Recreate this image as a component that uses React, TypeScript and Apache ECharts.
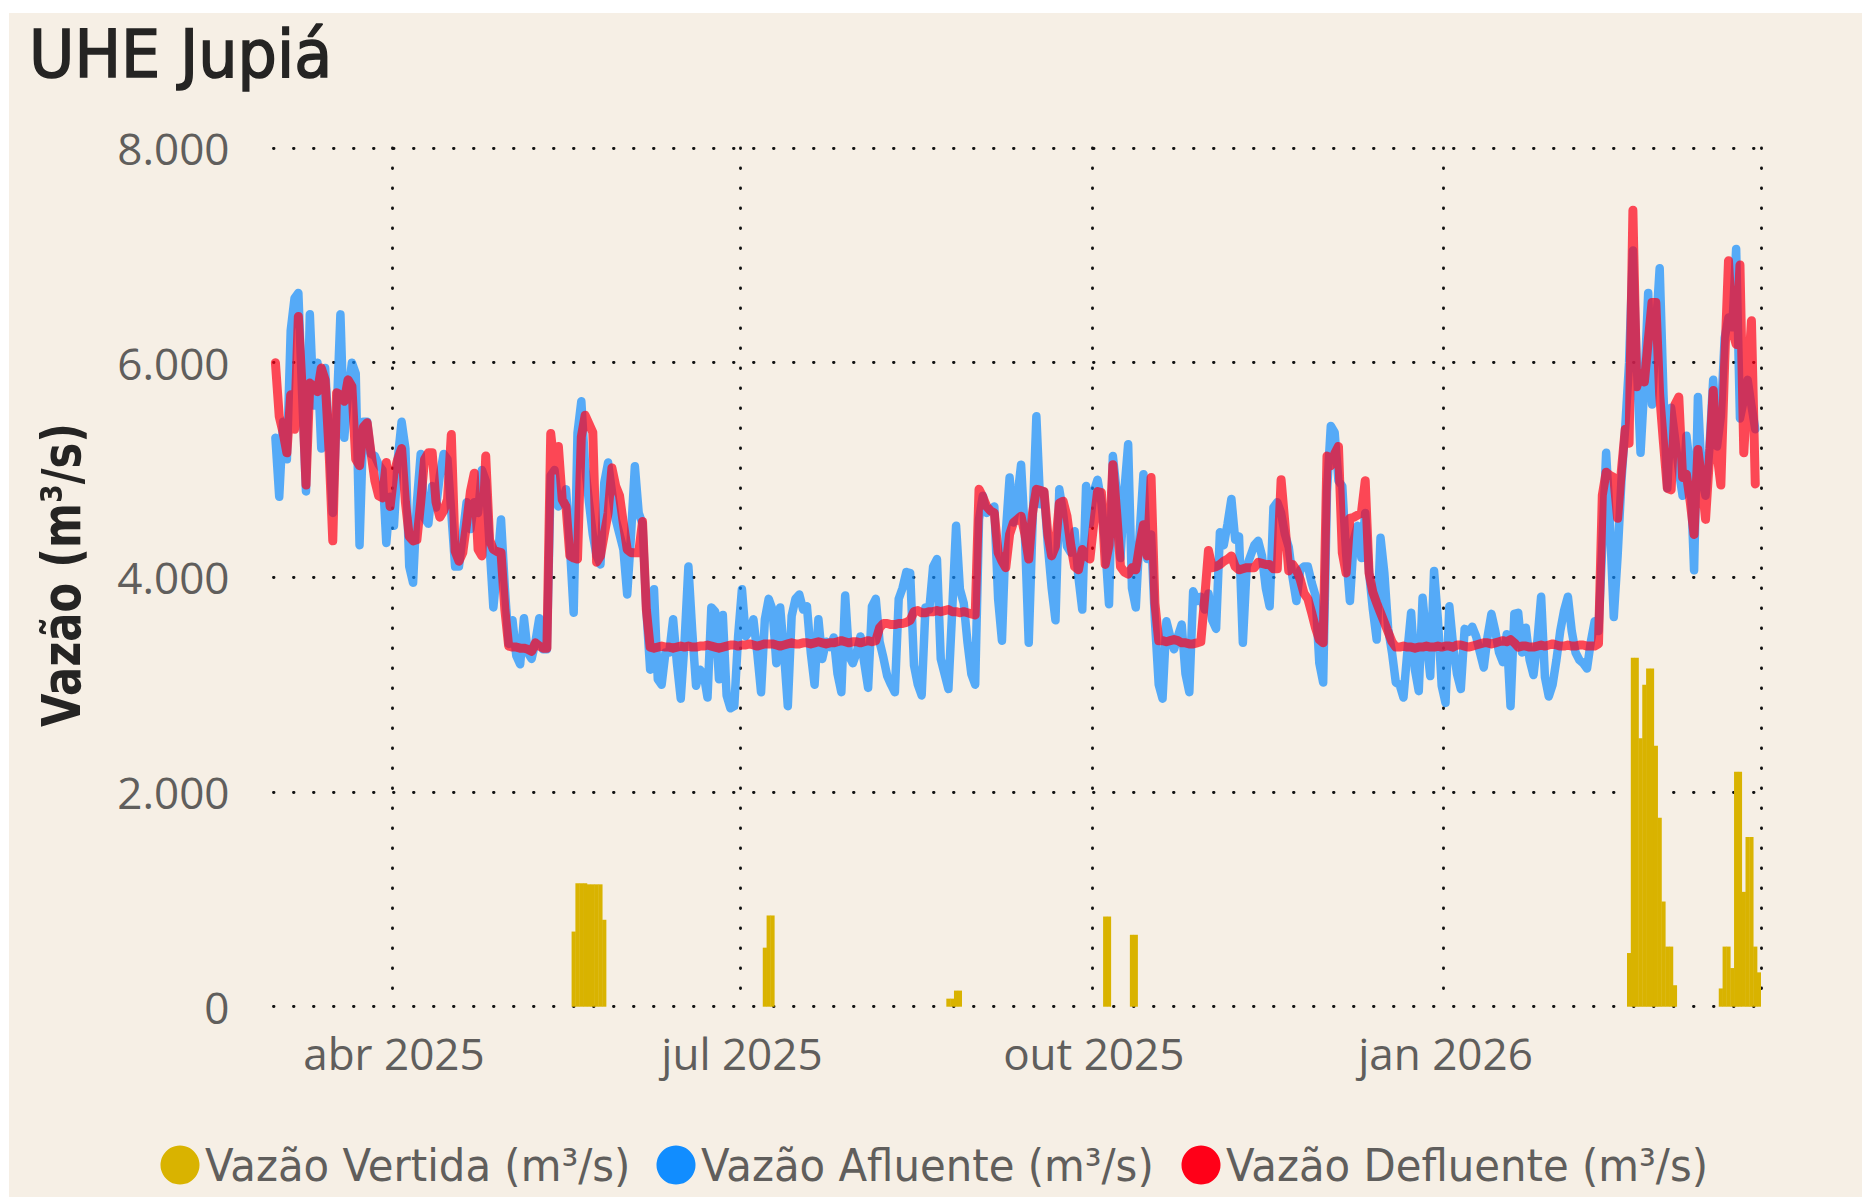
import React, { useEffect, useRef } from "react";
import * as echarts from "echarts";

// ---- Data ----
const START_DATE = "2025-03-01";
const DAY_COUNT = 389;
const MONTHS_PT = ["jan", "fev", "mar", "abr", "mai", "jun", "jul", "ago", "set", "out", "nov", "dez"];
const yTicks = [0, 2000, 4000, 6000, 8000];

const afluente = [
  5300, 4750, 5450, 5100, 6300, 6600, 6650, 5700, 4800, 6450,
  5600, 6000, 5200, 5950, 5300, 4600, 5500, 6450, 5300, 5700,
  6000, 5900, 4300, 5450, 5450, 5150, 5130, 5050, 5000, 4320,
  4750, 4480, 5100, 5450, 5200, 4100, 3950, 4700, 5150, 4550,
  4500, 4850, 4650, 4950, 5150, 5100, 4600, 4100, 4100, 4400,
  4700, 4450, 4700, 4600, 5000, 4900, 4300, 3720, 4100, 4540,
  3900, 3380, 3600, 3270, 3190, 3620, 3300, 3240, 3400, 3620,
  3330, 3330, 4950, 5000, 4660, 4700, 4820, 4300, 3670, 5345,
  5640, 5035, 4700, 4400, 4200, 4120, 4880, 5070, 4800, 4540,
  4400, 4260, 3840, 4400, 5035, 4600, 4500, 3700, 3140, 3890,
  3050, 3000, 3300, 3300, 3610, 3200, 2870, 3400, 4100, 3500,
  2990, 3140, 3100, 2880, 3720, 3680, 3050, 3650, 2900, 2780,
  2800, 3450, 3890, 3450, 3500, 3610, 3300, 2930, 3610, 3800,
  3700, 3200, 3720, 3300, 2800, 3640, 3800, 3840, 3700, 3730,
  3300, 3000, 3610, 3240, 3400, 3350, 3440, 3100, 2930, 3830,
  3270, 3200, 3300, 3450, 3200, 2970, 3730, 3800, 3400, 3250,
  3080, 3000, 2930, 3800, 3900, 4050, 4040, 3180, 3000, 2900,
  3720, 3700, 4100, 4170, 3240, 3100, 2960, 3700, 4480, 3890,
  3760, 3390, 3100, 3000, 4540, 4760, 4600, 4630, 4660, 3800,
  3410, 4410, 4930, 4510, 4730, 5050, 4400, 3390, 4500, 5500,
  4680, 4800, 4300, 3900, 3600, 4820, 4600, 4290, 4230, 4430,
  4000, 3700, 4850, 4500, 4800, 4910, 4700, 4300, 3750, 5130,
  4800, 4180, 4800, 5240, 3900, 3720, 4400, 4960, 4170, 4400,
  3600, 3000, 2870, 3590, 3450, 3330, 3450, 3560, 3100, 2930,
  3870, 3780, 3820, 3700, 3850, 3600, 3520, 4420, 4300, 4500,
  4730, 4350, 4380, 3390, 4100, 4200, 4300, 4340, 4200, 3900,
  3730, 4650, 4700, 4600, 4400, 4280, 4000, 3780, 4070, 4100,
  4100, 3950, 3830, 3200, 3020, 4800, 5410, 5350, 4900, 4850,
  4220, 3780, 4350, 4480, 4180, 4600, 4050, 3700, 3420, 4370,
  4040, 3520, 3300, 3020, 3000, 2880, 3300, 3670, 3140, 2940,
  3810, 3420, 3080, 4060, 3610, 2990, 2830, 3730, 3360, 3100,
  2960, 3520, 3490, 3540, 3450, 3300, 3160, 3450, 3660, 3500,
  3300, 3210, 3470, 2800, 3660, 3670, 3300, 3530, 3230, 3090,
  3400, 3820, 3070, 2890, 3000, 3230, 3500, 3690, 3820, 3500,
  3300, 3230, 3200, 3150, 3400, 3590, 3500, 4300, 5160, 4500,
  3630, 4200, 4900, 5400, 6000, 7045, 6000, 5160, 5800, 6650,
  5610, 6300, 6880, 5700, 4830, 5580, 5300, 5000, 4760, 5320,
  5000, 4065, 5680, 4930, 4760, 5200, 5840, 5220, 5500, 6230,
  6420, 6330, 7060, 5480, 5650, 5840, 5600, 5380,
];

const defluente = [
  6000, 5500, 5350, 5160, 5700, 5380, 6430, 5750, 4860, 5810,
  5780, 5730, 5950, 5840, 5200, 4340, 5720, 5700, 5640, 5840,
  5780, 5100, 5040, 5400, 5440, 5160, 4900, 4760, 4740, 5070,
  4660, 4970, 5100, 5200, 4700, 4380, 4340, 4350, 4700, 5100,
  5160, 5160, 4700, 4560, 4620, 4725, 5330, 4245, 4150, 4230,
  4500, 4800, 4970, 4260, 4200, 5130, 4350, 4260, 4240, 4230,
  3700, 3360, 3350, 3350, 3340, 3340, 3330, 3310, 3390, 3360,
  3340, 3340, 5340, 5000, 5220, 4725, 4660, 4200, 4180, 4170,
  5310, 5510, 5430, 5350, 4140, 4200, 4400, 4600, 5020, 4850,
  4760, 4500, 4260, 4230, 4230, 4230, 4520, 3700, 3350, 3340,
  3350, 3360, 3350, 3350, 3340, 3350, 3360, 3350, 3360, 3350,
  3350, 3360, 3360, 3370, 3360, 3350, 3340, 3350, 3360, 3370,
  3370, 3360, 3370, 3370, 3380, 3370, 3360, 3370, 3380, 3380,
  3380, 3370, 3360, 3370, 3380, 3390, 3380, 3380, 3390, 3390,
  3380, 3390, 3400, 3390, 3380, 3390, 3390, 3400, 3410, 3400,
  3390, 3400, 3400, 3390, 3400, 3410, 3400, 3410, 3530, 3570,
  3570, 3560, 3560, 3570, 3570, 3580, 3600, 3680, 3690, 3670,
  3670, 3680, 3680, 3690, 3680, 3690, 3700, 3680, 3680, 3670,
  3680, 3670, 3660, 3650, 4820, 4750, 4660, 4620, 4600, 4230,
  4150, 4090, 4400, 4510, 4540, 4570, 4400, 4170, 4600, 4820,
  4810, 4800, 4400, 4200, 4290, 4690, 4710, 4570, 4300, 4100,
  4070, 4260, 4200, 4170, 4500, 4800, 4790, 4120, 4300, 5050,
  4600, 4100, 4050, 4030, 4090, 4070, 4300, 4490, 4200, 4930,
  3760, 3410, 3410, 3400, 3410, 3420, 3410, 3390, 3390, 3380,
  3380, 3390, 3400, 3800, 4250, 4090, 4100, 4120, 4150, 4170,
  4200, 4100, 4070, 4080, 4090, 4090, 4090, 4140, 4130, 4120,
  4120, 4080, 4080, 4910, 4500, 4060, 4120, 4070, 3980, 3850,
  3800, 3670, 3530, 3420, 3390, 5130, 5040, 5150, 5220, 4230,
  4040, 4550, 4560, 4580, 4600, 4900, 4040, 3860, 3760, 3670,
  3580, 3490, 3400, 3350, 3350, 3360, 3350, 3350, 3340, 3350,
  3350, 3360, 3350, 3350, 3360, 3350, 3360, 3360, 3350, 3370,
  3370, 3360, 3350, 3360, 3370, 3380, 3390, 3390, 3380, 3390,
  3400, 3410, 3400, 3420, 3390, 3350, 3360, 3360, 3350, 3350,
  3360, 3370, 3360, 3370, 3380, 3370, 3360, 3360, 3370, 3360,
  3360, 3370, 3370, 3360, 3360, 3360, 3380, 4765, 4980, 4950,
  4930, 4550, 5000, 5380, 5250, 7420, 5775, 5900, 5820, 6200,
  6560, 6560, 5700, 5250, 4830, 4815, 5610, 5680, 4930, 4960,
  4700, 4400, 5190, 4900, 4540, 5100, 5740, 5150, 4860, 6000,
  6950, 6300, 6170, 6910, 5160, 5800, 6390, 4870,
];

const vertidaDates = [
  "2025-05-18", "2025-05-19", "2025-05-20", "2025-05-21", "2025-05-22", "2025-05-23", "2025-05-24", "2025-05-25", "2025-05-26",
  "2025-07-07", "2025-07-08", "2025-07-09",
  "2025-08-24", "2025-08-25", "2025-08-26", "2025-08-27",
  "2025-10-04", "2025-10-05", "2025-10-11", "2025-10-12",
  "2026-02-18", "2026-02-19", "2026-02-20", "2026-02-21", "2026-02-22", "2026-02-23", "2026-02-24",
  "2026-02-25", "2026-02-26", "2026-02-27", "2026-02-28", "2026-03-01", "2026-03-02",
  "2026-03-14", "2026-03-15", "2026-03-16", "2026-03-17", "2026-03-18", "2026-03-19", "2026-03-20",
  "2026-03-21", "2026-03-22", "2026-03-23", "2026-03-24",
];
const vertidaValues = [
  700, 1150, 1150, 1150, 1140, 1140, 1140, 1140, 810,
  550, 850, 850,
  75, 75, 150, 150,
  840, 840, 670, 670,
  500, 3250, 3250, 2500, 3000, 3150, 3150,
  2430, 1760, 980, 560, 560, 200,
  170, 560, 560, 360, 2190, 2190, 1070,
  1580, 1580, 560, 320,
];

const seriesNames = ["Vazão Vertida (m³/s)", "Vazão Afluente (m³/s)", "Vazão Defluente (m³/s)"];
const seriesColors = ["#D9B300", "#118DFF", "#FF0018"];

function buildDates(): string[] {
  const [y, m, d] = START_DATE.split("-").map(Number);
  const out: string[] = [];
  for (let i = 0; i < DAY_COUNT; i++) {
    const dt = new Date(Date.UTC(y, m - 1, d + i));
    out.push(dt.toISOString().slice(0, 10));
  }
  return out;
}

const isQuarterStart = (v: string) => /-(01|04|07|10)-01$/.test(v);
const fmtMonth = (v: string) => {
  const [y, m] = v.split("-");
  return `${MONTHS_PT[Number(m) - 1]} ${y}`;
};
const fmtNum = (v: number) => String(v).replace(/\B(?=(\d{3})+(?!\d))/g, ".");

export default function App() {
  const ref = useRef<HTMLDivElement>(null);
  useEffect(() => {
    if (!ref.current) return;
    const chart = echarts.init(ref.current, null, { renderer: "svg" });
    const dates = buildDates();
    const vmap = new Map<string, number>();
    vertidaDates.forEach((d, i) => vmap.set(d, vertidaValues[i]));
    const vertida = dates.map((d) => (vmap.has(d) ? vmap.get(d)! : null));

    const dotted = { color: "#111111", width: 2.9, type: [0.5, 19.5], cap: "round" };
    const condensedFont = '"DejaVu Sans", sans-serif';
    const legendX = [
      { cx: 180, tx: 205 },
      { cx: 676, tx: 701 },
      { cx: 1201, tx: 1226 },
    ];

    const graphic: any[] = [
      {
        type: "text",
        x: 29,
        y: 54,
        scaleX: 0.94,
        style: {
          text: "UHE Jupiá",
          fill: "#252423",
          stroke: "#252423",
          lineWidth: 1.6,
          fontSize: 66,
          fontFamily: condensedFont,
          fontWeight: "normal",
          align: "left",
          verticalAlign: "middle",
        },
      },
      {
        type: "text",
        x: 62,
        y: 575,
        rotation: Math.PI / 2,
        scaleX: 0.8,
        style: {
          text: "Vazão (m³/s)",
          fill: "#252423",
          fontSize: 54,
          fontFamily: condensedFont,
          fontWeight: "bold",
          align: "center",
          verticalAlign: "middle",
        },
      },
    ];
    seriesNames.forEach((name, i) => {
      graphic.push({
        type: "circle",
        shape: { cx: legendX[i].cx, cy: 1165, r: 19.5 },
        style: { fill: seriesColors[i] },
      });
      graphic.push({
        type: "text",
        x: legendX[i].tx,
        y: 1165,
        scaleX: 0.93,
        style: {
          text: name,
          fill: "#605E5C",
          fontSize: 45,
          fontFamily: condensedFont,
          align: "left",
          verticalAlign: "middle",
        },
      });
    });

    chart.setOption({
      animation: false,
      backgroundColor: "transparent",
      graphic,
      grid: { left: 273.5, right: 108, top: 148, bottom: 190.3, containLabel: false },
      xAxis: {
        type: "category",
        data: dates,
        boundaryGap: true,
        axisLine: { show: false },
        axisTick: { show: false },
        axisLabel: {
          interval: (_i: number, v: string) => isQuarterStart(v),
          formatter: (v: string) => fmtMonth(v),
          color: "#605E5C",
          fontSize: 44,
          fontFamily: '"Open Sans", sans-serif',
          margin: 23,
          lineHeight: 46,
        },
        splitLine: {
          show: true,
          interval: (_i: number, v: string) => isQuarterStart(v),
          lineStyle: dotted,
        },
      },
      yAxis: {
        type: "value",
        min: yTicks[0],
        max: yTicks[yTicks.length - 1],
        interval: yTicks[1] - yTicks[0],
        axisLine: { show: false },
        axisTick: { show: false },
        axisLabel: {
          formatter: (v: number) => fmtNum(v),
          color: "#605E5C",
          fontSize: 44,
          fontFamily: '"Open Sans", sans-serif',
          margin: 44,
        },
        splitLine: { show: true, lineStyle: dotted },
      },
      series: [
        {
          name: seriesNames[0],
          type: "bar",
          data: vertida,
          barWidth: 4.2,
          itemStyle: { color: seriesColors[0] },
          silent: true,
          z: 2,
        },
        {
          name: seriesNames[1],
          type: "line",
          data: afluente,
          symbol: "none",
          silent: true,
          lineStyle: { color: seriesColors[1], width: 8.5, opacity: 0.7, cap: "round", join: "round" },
          z: 3,
        },
        {
          name: seriesNames[2],
          type: "line",
          data: defluente,
          symbol: "none",
          silent: true,
          lineStyle: { color: seriesColors[2], width: 9, opacity: 0.7, cap: "round", join: "round" },
          z: 4,
        },
      ],
    });
    return () => chart.dispose();
  }, []);

  return (
    <>
      <div style={{ position: "fixed", left: 0, top: 0, width: 1869, height: 1197, background: "#ffffff" }} />
      <div style={{ position: "fixed", left: 9, top: 13, width: 1853, height: 1184, background: "#F6EFE5" }} />
      <div ref={ref} style={{ position: "fixed", left: 0, top: 0, width: 1869, height: 1197 }} />
    </>
  );
}
